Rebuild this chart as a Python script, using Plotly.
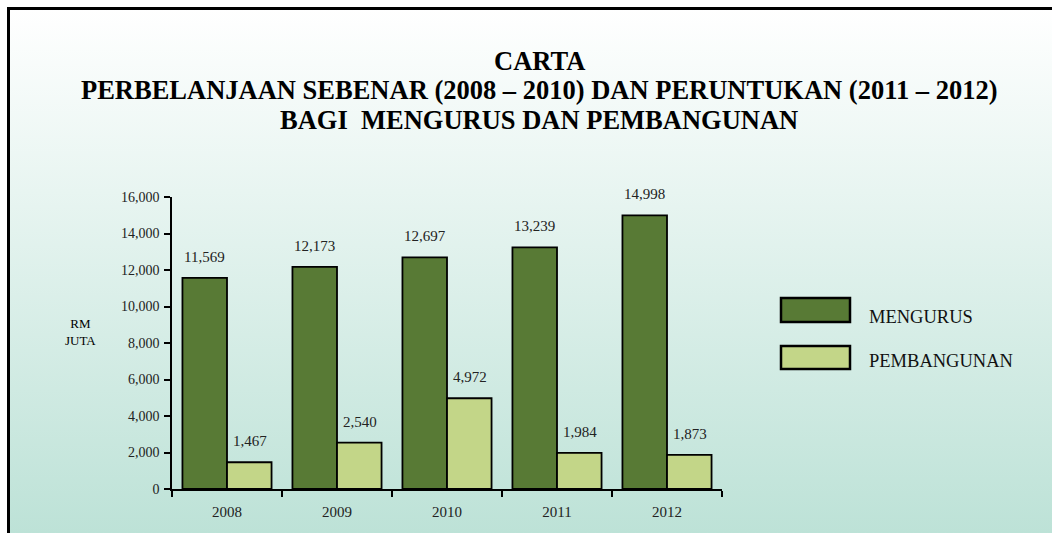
import base64
import plotly.graph_objects as go

years = ["2008", "2009", "2010", "2011", "2012"]
mengurus = [11569, 12173, 12697, 13239, 14998]
pembangunan = [1467, 2540, 4972, 1984, 1873]
series_names = ["MENGURUS", "PEMBANGUNAN"]
title_lines = [
    "CARTA",
    "PERBELANJAAN SEBENAR (2008 – 2010) DAN PERUNTUKAN (2011 – 2012)",
    "BAGI&nbsp; MENGURUS DAN PEMBANGUNAN",
]
y_ticks = list(range(0, 16001, 2000))

W, H = 1052, 533
L, R, T, B = 172, 330, 197, 44
PW, PH = W - L - R, H - T - B

DARK = "#587a35"
LIGHT = "#c3d688"
FONT = "Liberation Serif, Times New Roman, serif"


def px_x(p):
    return (p - L) / PW


def px_y(p):
    return (H - B - p) / PH


fig = go.Figure()
fig.add_trace(go.Bar(x=years, y=mengurus, name=series_names[0],
                     marker=dict(color=DARK, line=dict(color="black", width=1.8))))
fig.add_trace(go.Bar(x=years, y=pembangunan, name=series_names[1],
                     marker=dict(color=LIGHT, line=dict(color="black", width=1.8))))

annotations = []
for vals, shift in ((mengurus, -22.5), (pembangunan, 22.5)):
    for i, v in enumerate(vals):
        annotations.append(dict(x=i, y=v, xref="x", yref="y", text=f"{v:,}",
                                showarrow=False, xshift=shift, yshift=21,
                                yanchor="middle",
                                font=dict(family=FONT, size=15, color="#222")))

for line, ypx in zip(title_lines, (61, 90.5, 120)):
    annotations.append(dict(x=px_x(539), y=px_y(ypx), xref="paper", yref="paper",
                            text=f"<b>{line}</b>", showarrow=False,
                            xanchor="center", yanchor="middle",
                            font=dict(family=FONT, size=26.5, color="black")))

annotations.append(dict(x=px_x(80), y=px_y(332), xref="paper", yref="paper",
                        text="RM<br>JUTA", showarrow=False, xanchor="center",
                        yanchor="middle", font=dict(family=FONT, size=13, color="black")))

shapes = []
legend_rows = [(series_names[0], DARK, 298, 322, 317), (series_names[1], LIGHT, 346, 369, 361)]
for name, col, y0, y1, ty in legend_rows:
    shapes.append(dict(type="rect", xref="paper", yref="paper",
                       x0=px_x(781), x1=px_x(850), y0=px_y(y1), y1=px_y(y0),
                       fillcolor=col, line=dict(color="black", width=2.5)))
    annotations.append(dict(x=px_x(867), y=px_y(ty), xref="paper", yref="paper",
                            text=name, showarrow=False, xanchor="left", yanchor="middle",
                            font=dict(family=FONT, size=18.5, color="#111")))

# border lines (top and left)
shapes.append(dict(type="line", xref="paper", yref="paper", x0=px_x(7), x1=px_x(W + 5),
                   y0=px_y(8.5), y1=px_y(8.5), line=dict(color="black", width=3)))
shapes.append(dict(type="line", xref="paper", yref="paper", x0=px_x(8.5), x1=px_x(8.5),
                   y0=px_y(7), y1=px_y(H + 5), line=dict(color="black", width=3)))

svg = ('<svg xmlns="http://www.w3.org/2000/svg" width="100" height="100" preserveAspectRatio="none">'
       '<defs><linearGradient id="g" x1="0" y1="0" x2="0" y2="1">'
       '<stop offset="0" stop-color="#ffffff"/><stop offset="1" stop-color="#bde2d7"/>'
       '</linearGradient></defs><rect width="100" height="100" fill="url(#g)"/></svg>')
uri = "data:image/svg+xml;base64," + base64.b64encode(svg.encode()).decode()
images = [dict(source=uri, xref="paper", yref="paper", x=px_x(9), y=px_y(9),
               sizex=(W - 9) / PW, sizey=(H - 9) / PH, sizing="stretch",
               xanchor="left", yanchor="top", layer="below")]

fig.update_layout(
    width=W, height=H,
    margin=dict(l=L, r=R, t=T, b=B, pad=0),
    paper_bgcolor="white", plot_bgcolor="rgba(0,0,0,0)",
    barmode="group", bargap=0.19, bargroupgap=0,
    showlegend=False,
    annotations=annotations, shapes=shapes, images=images,
    font=dict(family=FONT, size=13, color="black"),
)
fig.update_xaxes(type="category", range=[-0.5, 4.5], autorange=False,
                 showline=True, linecolor="black", linewidth=1.5,
                 ticks="outside", tickson="boundaries", ticklen=6, tickwidth=1.5,
                 tickcolor="black", showgrid=False, zeroline=False,
                 tickfont=dict(family=FONT, size=15, color="#222"), ticklabelstandoff=8)
fig.update_yaxes(range=[0, 16000], autorange=False, tickvals=y_ticks, tickformat=",d",
                 showline=True, linecolor="black", linewidth=1.5,
                 ticks="outside", ticklen=6, tickwidth=1.5, tickcolor="black",
                 showgrid=False, zeroline=False,
                 tickfont=dict(family=FONT, size=14, color="#222"), ticklabelstandoff=2)

fig.write_html("out.html", config={"displayModeBar": False},
               post_script="document.body.style.margin='0';")
